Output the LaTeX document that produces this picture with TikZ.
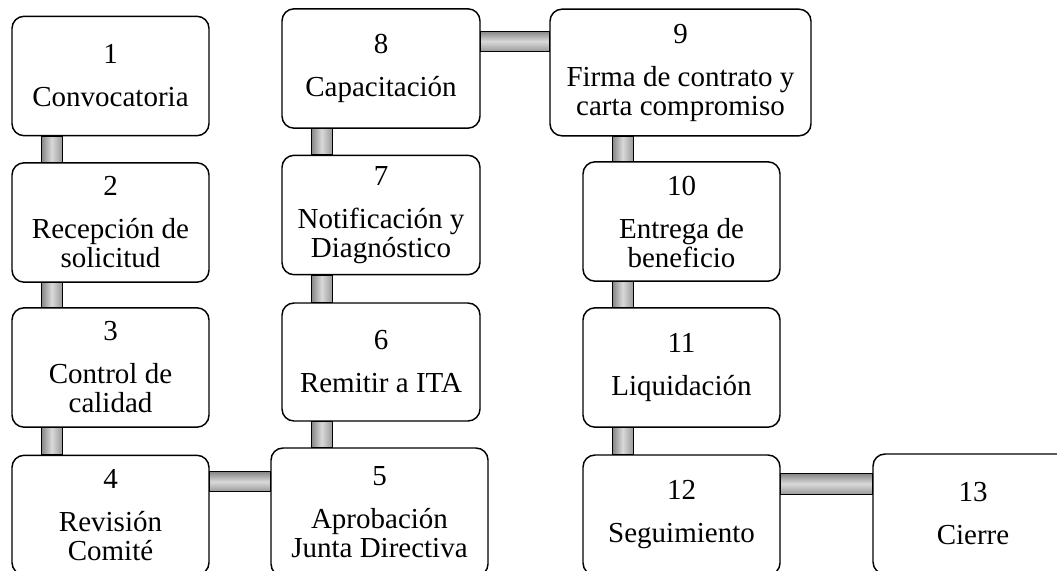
\documentclass[tikz,border=0pt]{standalone}
\usepackage{fontspec}
\setmainfont{Liberation Serif}
\usetikzlibrary{shapes}

\begin{document}
\begin{tikzpicture}[x=0.75pt,y=-0.75pt]
  \tikzstyle{box} = [rectangle, rounded corners=9pt, draw, line width=1.1pt, fill=white, align=center, inner sep=2pt, minimum width=147.75pt, minimum height=89.5pt, font=\fontsize{21.75}{21.75}\selectfont]
  \tikzstyle{vbar} = [draw, line width=0.8pt, left color=black!48, right color=black!40, middle color=black!15]
  \tikzstyle{hbar} = [draw, line width=0.8pt, top color=black!48, bottom color=black!40, middle color=black!15]
  \useasboundingbox (0,0) rectangle (1057,571);
  \clip (0,0) rectangle (1057,571);
  % first column
  \node (s1) [box] at (110.5,76) {1\\[10.5pt]Convocatoria};
  \node (s2) [box] at (110.5,222.5) {2\\[10.5pt]Recepción de\\solicitud};
  \node (s3) [box] at (110.5,367.5) {3\\[10.5pt]Control de\\calidad};
  \node (s4) [box] at (110.5,515) {4\\[10.5pt]Revisión\\Comité};
  % second column
  \node (s5) [box, minimum width=162.75pt, minimum height=96pt] at (379.5,512) {5\\[10.5pt]Aprobación\\Junta Directiva};
  \node (s6) [box, minimum width=148.5pt, minimum height=88.5pt] at (381,362) {6\\[10.5pt]Remitir a ITA};
  \node (s7) [box, minimum width=148.5pt] at (381,215) {7\\[10.5pt]Notificación y\\Diagnóstico};
  \node (s8) [box, minimum width=148.5pt] at (381,68.5) {8\\[10.5pt]Capacitación};
  % third column
  \node (s9) [box, minimum width=195.75pt, minimum height=95pt] at (680.5,72.5) {9\\[10.5pt]Firma de contrato y\\carta compromiso};
  \node (s10) [box] at (681.5,221.5) {10\\[10.5pt]Entrega de\\beneficio};
  \node (s11) [box] at (681.5,367.5) {11\\[10.5pt]Liquidación};
  \node (s12) [box, minimum height=90pt] at (681.5,515) {12\\[10.5pt]Seguimiento};
  \node (s13) [box, minimum width=150pt, minimum height=90pt] at (973,514) {13\\[10.5pt]Cierre};
  % connectors
  \path [vbar] ([xshift=22.5pt]s1.south west) rectangle ([xshift=38.25pt]s2.north west);
  \path [vbar] ([xshift=22.5pt]s2.south west) rectangle ([xshift=38.25pt]s3.north west);
  \path [vbar] ([xshift=22.5pt]s3.south west) rectangle ([xshift=38.25pt]s4.north west);
  \path [hbar] ([yshift=-12.75pt]s4.north east) rectangle ([yshift=-27.75pt]s4.north east -| s5.west);
  \path [vbar] ([xshift=22.5pt]s6.south west) rectangle ([xshift=38.25pt]s6.south west |- s5.north);
  \path [vbar] ([xshift=22.5pt]s7.south west) rectangle ([xshift=38.25pt]s6.north west);
  \path [vbar] ([xshift=22.5pt]s8.south west) rectangle ([xshift=38.25pt]s7.north west);
  \path [hbar] ([yshift=-17.25pt]s8.north east) rectangle ([yshift=-32.25pt]s9.north west);
  \path [vbar] ([xshift=22.5pt]s10.north west) rectangle ([xshift=38.25pt]s10.west |- s9.south);
  \path [vbar] ([xshift=22.5pt]s10.south west) rectangle ([xshift=38.25pt]s11.north west);
  \path [vbar] ([xshift=22.5pt]s11.south west) rectangle ([xshift=38.25pt]s12.north west);
  \path [hbar] ([yshift=-14.25pt]s12.north east) rectangle ([yshift=-30.75pt]s13.north west);
\end{tikzpicture}
\end{document}
